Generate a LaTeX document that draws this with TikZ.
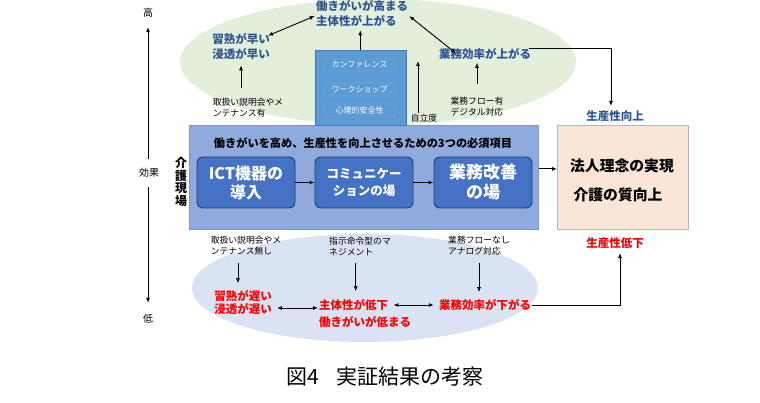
\documentclass[tikz,border=0pt]{standalone}
\usepackage{fontspec}
\setmainfont{Noto Sans CJK JP}
\usetikzlibrary{arrows.meta}
\definecolor{ellg}{RGB}{226,239,218}
\definecolor{ellb}{RGB}{218,227,243}
\definecolor{mainbox}{RGB}{143,170,220}
\definecolor{mainedge}{RGB}{120,150,205}
\definecolor{stepfill}{RGB}{68,114,196}
\definecolor{stepedge}{RGB}{38,60,105}
\definecolor{topbox}{RGB}{91,155,213}
\definecolor{topedge}{RGB}{70,120,180}
\definecolor{txtblue}{RGB}{47,85,151}
\definecolor{peach}{RGB}{251,229,214}
\definecolor{peachedge}{RGB}{165,185,210}
\definecolor{txtred}{RGB}{255,0,0}
\newcommand{\fs}[2]{\fontsize{#1}{#2}\selectfont}
\tikzset{
  x=1pt, y=-1pt,
  arr/.style={-{Latex[length=5pt,width=4pt]}, line width=0.9pt},
  dbl/.style={{Latex[length=5pt,width=4pt]}-{Latex[length=5pt,width=4pt]}, line width=0.9pt},
  small/.style={font=\fs{8.8}{11}, align=left, inner sep=1pt},
  bluetxt/.style={text=txtblue, font=\bfseries\fs{11.5}{15}, align=left, inner sep=1pt},
  redtxt/.style={text=txtred, font=\bfseries\fs{11.5}{13}, align=left, inner sep=1pt},
  stepbox/.style={draw=stepedge, line width=0.9pt, fill=stepfill, rounded corners=6pt,
    minimum width=98pt, minimum height=51pt, text=white, align=center},
  tagbox/.style={draw=topedge!70!white, line width=0.6pt, fill=topbox, rounded corners=2pt,
    minimum width=71pt, minimum height=12pt, inner sep=0pt, text=white, font=\fs{8}{9}},
}
\begin{document}
\begin{tikzpicture}
\useasboundingbox (0,0) rectangle (760,403);
% ellipses
\fill[ellg] (378,62) ellipse [x radius=198, y radius=63];
\fill[ellb] (365,288) ellipse [x radius=173, y radius=54];
% axis
\node[font=\fs{10}{11}] (hi) at (148,13) {高};
\node[font=\fs{10}{11}, inner ysep=9pt] (eff) at (149,173) {効果};
\node[font=\fs{10}{11}] (lo) at (148,319) {低};
\draw[arr] (eff.north -| hi.south) -- ([yshift=-6pt]hi.south);
\draw[arr] (eff.south -| lo.north) -- ([yshift=8pt]lo.north);
% main box
\node[draw=mainedge, line width=0.8pt, fill=mainbox, minimum width=349pt, minimum height=104pt, anchor=north west, inner sep=0pt] (main) at (189,125) {};
\node[font=\bfseries\fs{11.2}{12}] (title) at (363,143) {働きがいを高め、生産性を向上させるための3つの必須項目};
\node[font=\bfseries\fs{12}{12.5}, align=center, inner sep=0pt] (kaigo) at (181,182) {介\\護\\現\\場};
\node[stepbox, font=\bfseries\fs{16}{19}] (ict) at (246,182.5) {ICT機器の\\導入};
\node[stepbox, font=\bfseries\fs{12.5}{17}] (comm) at (364,182.5) {コミュニケー\\ションの場};
\node[stepbox, font=\bfseries\fs{17}{20}] (kaizen) at (483,182.5) {業務改善\\の場};
\draw[arr] (ict.east) -- (comm.west);
\draw[arr] (comm.east) -- (kaizen.west);
% top stacked box
\node[draw=topedge, line width=0.6pt, fill=topbox, minimum width=91pt, minimum height=75pt, anchor=north west, inner sep=0pt] (stack) at (314.5,50) {};
\node[tagbox] (conf) at (359.5,65) {カンファレンス};
\node[tagbox] (work) at (359.5,89) {ワークショップ};
\node[tagbox] (psy) at (359.5,110) {心理的安全性};
% top texts
\node[bluetxt] (ws) at (362,14) {働きがいが高まる\\主体性が上がる};
\node[bluetxt] (fast) at (241,47) {習熟が早い\\浸透が早い};
\node[bluetxt] (effup) at (485,54) {業務効率が上がる};
\node[small] (ntxt1) at (248,108) {取扱い説明会やメ\\ンテナンス有};
\node[small] (jiritsu) at (424,118) {自立度};
\node[small] (flow) at (477,107) {業務フロー有\\デジタル対応};
\coordinate (jtop) at (418,61);
\draw[arr] (stack.north) -- ([yshift=-2pt]ws.south -| stack.north);
\draw[dbl] ([xshift=-3pt,yshift=-3pt]fast.north east) -- ([yshift=-2pt]ws.west);
\draw[dbl] ([yshift=-2pt]ws.east) -- ([xshift=18pt,yshift=-6pt]effup.north west);
\draw[arr, shorten <=9pt] (ntxt1.north -| fast.south) -- ([yshift=-4pt]fast.south);
\draw[arr] (jiritsu.north -| jtop) -- (jtop);
\draw[arr, shorten <=12pt] (flow.north) -- ([yshift=-2pt]flow.north |- effup.south);
% right box
\node[draw=peachedge, line width=0.8pt, fill=peach, minimum width=131pt, minimum height=104pt, anchor=north west, inner sep=0pt] (goal) at (557,125) {};
\node[font=\bfseries\fs{14.8}{16}] (g1) at (622,166) {法人理念の実現};
\node[font=\bfseries\fs{14.8}{16}] (g2) at (618,195) {介護の質向上};
\node[text=txtblue, font=\bfseries\fs{11.5}{12}] (produp) at (615,116) {生産性向上};
\node[text=txtred, font=\bfseries\fs{11.5}{12}] (proddn) at (615,243) {生産性低下};
\draw[arr] ([yshift=8.5pt]main.east) -- ([yshift=8.5pt]main.east -| goal.west);
\draw[arr] ([xshift=-3pt,yshift=-1pt]effup.north east) -| ([xshift=-4pt,yshift=1pt]produp.north);
% bottom
\node[small] (ntxt2) at (246,246) {取扱い説明会やメ\\ンテナンス無し};
\node[small] (ntxt3) at (360,246) {指示命令型のマ\\ネジメント};
\node[small] (ntxt4) at (479,246) {業務フローなし\\アナログ対応};
\node[redtxt] (slow) at (243,302.5) {習熟が遅い\\浸透が遅い};
\node[redtxt, anchor=west] (subj) at (318,305) {主体性が低下};
\node[redtxt, anchor=west] (subj2) at (318,322) {働きがいが低まる};
\node[redtxt] (effdn) at (485,305) {業務効率が下がる};
\draw[arr, shorten <=6pt] ([xshift=-5pt]slow.north |- ntxt2.south) -- ([xshift=-5pt,yshift=6pt]slow.north);
\draw[arr, shorten <=6pt] ([xshift=2pt]subj.north |- ntxt3.south) -- ([xshift=2pt,yshift=7pt]subj.north);
\draw[arr, shorten <=6pt] (ntxt4.south) -- ([yshift=6pt]ntxt4.south |- effdn.north);
\draw[dbl] ([xshift=4pt,yshift=-3pt]slow.east |- subj.west) -- ([yshift=-3pt]subj.west);
\draw[dbl] ([xshift=4pt]subj.east) -- ([xshift=-4pt]effdn.west);
\draw[arr] (effdn.east) -| ([xshift=5pt,yshift=-1pt]proddn.south);
% caption
\node[font=\fs{21}{22}] (cap) at (385,377) {図4\hspace{0.8em}実証結果の考察};
\end{tikzpicture}
\end{document}
